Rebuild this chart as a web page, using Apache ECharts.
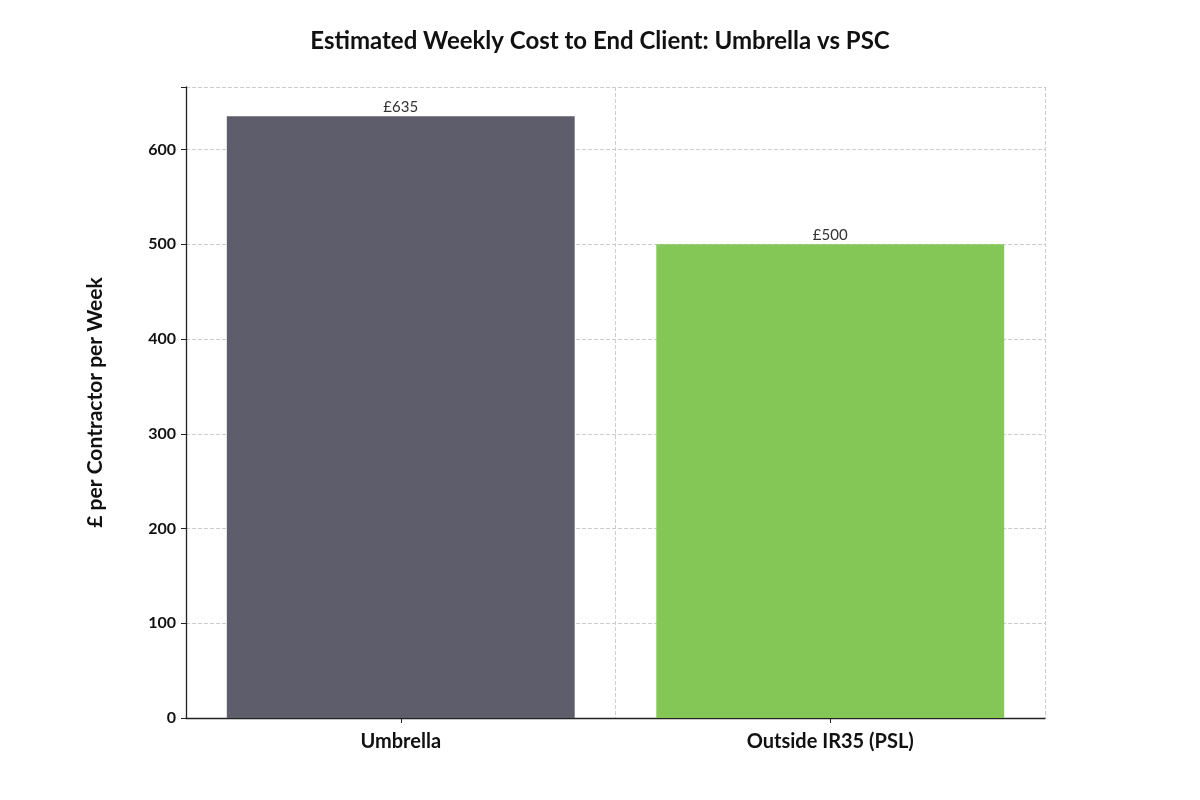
<!DOCTYPE html>
<html><head><meta charset="utf-8">
<script src="https://cdn.jsdelivr.net/npm/echarts@6/dist/echarts.min.js"></script>
<style>html,body{margin:0;background:#fff}#c{width:1200px;height:800px}</style>
</head><body><div id="c"></div>
<script>
const categories = ['Umbrella', 'Outside IR35 (PSL)'];
const values = [635, 500];
const colors = ['#5e5d6b', '#84c757'];
const yTicks = [0, 100, 200, 300, 400, 500, 600];
const chart = echarts.init(document.getElementById('c'));
const F = 'Lato, "Noto Sans", sans-serif';
chart.setOption({
  title: {text: 'Estimated Weekly Cost to End Client: Umbrella vs PSC', left: 'center', top: 24,
    textStyle: {fontFamily: F, fontSize: 24, fontWeight: 'bold', color: '#111'}},
  grid: {left: 186, right: 155, top: 87, bottom: 82},
  xAxis: {type: 'category', data: categories,
    axisLine: {lineStyle: {color: '#222', width: 1.3}},
    axisTick: {show: true, alignWithLabel: true, lineStyle: {color: '#222'}},
    axisLabel: {fontFamily: F, fontSize: 20, fontWeight: 'bold', color: '#111', margin: 14},
    splitLine: {show: true, lineStyle: {type: 'dashed', color: '#ccc'}}},
  yAxis: {type: 'value', min: 0, max: 666, interval: 100,
    name: '£ per Contractor per Week', nameLocation: 'middle', nameGap: 80,
    nameTextStyle: {fontFamily: F, fontSize: 21, fontWeight: 'bold', color: '#111'},
    axisLine: {show: true, lineStyle: {color: '#222', width: 1.3}},
    axisTick: {show: true, lineStyle: {color: '#222'}},
    axisLabel: {fontFamily: F, fontSize: 16, fontWeight: 'bold', color: '#111', margin: 10,
      formatter: v => yTicks.includes(v) ? String(v) : ''},
    splitLine: {show: true, lineStyle: {type: 'dashed', color: '#ccc'}}},
  series: [{type: 'bar', barWidth: '81%',
    data: values.map((v, i) => ({value: v, itemStyle: {color: colors[i]}})),
    label: {show: true, position: 'top', distance: 2, formatter: p => '£' + p.value,
      fontFamily: F, fontSize: 15, color: '#333'}}]
});
</script></body></html>
